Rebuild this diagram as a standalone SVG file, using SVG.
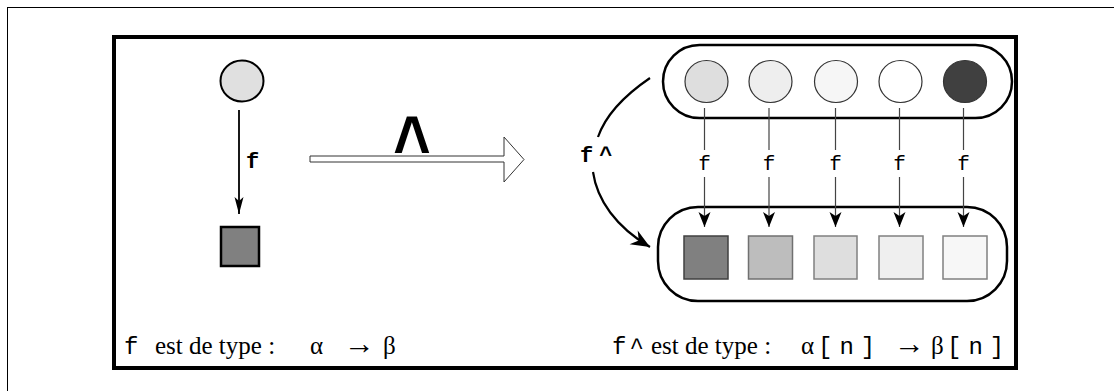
<svg xmlns="http://www.w3.org/2000/svg" width="1114" height="391" viewBox="0 0 1114 391">
<style>
.mono{font-family:"Liberation Mono","Courier New",monospace;fill:#000}
.serif{font-family:"Liberation Serif","Times New Roman",serif;fill:#000}
.b{font-weight:bold}
.conn{fill:none;stroke:#000}
.thin{stroke:#444;stroke-width:1.2}
.bub{fill:#fff;stroke:#000;stroke-width:2.5}
.c{stroke:#333;stroke-width:1.2}
.sq{stroke-width:1.5}
</style>
<defs>
<marker id="ah" markerUnits="userSpaceOnUse" viewBox="-16 -7 17 14" refX="0" refY="0" markerWidth="17" markerHeight="14" orient="auto">
<path d="M0,0 L-15,-6 L-11,0 L-15,6 Z" fill="#000"/>
</marker>
<marker id="ahl" markerUnits="userSpaceOnUse" viewBox="-18 -6 19 12" refX="0" refY="0" markerWidth="19" markerHeight="12" orient="auto">
<path d="M0,0 L-17,-4.5 L-13,0 L-17,4.5 Z" fill="#000"/>
</marker>
<marker id="ahc" markerUnits="userSpaceOnUse" viewBox="-20 -10 21 20" refX="0" refY="0" markerWidth="21" markerHeight="20" orient="auto">
<path d="M0,0 L-19,-8 L-13,0 L-19,8 Z" fill="#000"/>
</marker>
</defs>
<rect x="7.5" y="7.5" width="1120" height="400" fill="#fff" stroke="#000" stroke-width="1"/>
<rect x="114" y="37" width="902" height="331" fill="#fff" stroke="#000" stroke-width="4"/>

<g id="src-circle"><ellipse cx="242" cy="81" rx="21.5" ry="20.5" fill="#e0e0e0" stroke="#000" stroke-width="2"/></g>
<g id="src-square"><rect x="221" y="227" width="38" height="39" fill="#808080" stroke="#000" stroke-width="2.5"/></g>

<g id="top-bubble">
<rect class="bub" x="663" y="45" width="349" height="73" rx="36.5"/>
<ellipse class="c" cx="706.5" cy="81.5" rx="21.5" ry="21" fill="#dedede"/>
<ellipse class="c" cx="770.5" cy="81.5" rx="21.5" ry="21" fill="#eeeeee"/>
<ellipse class="c" cx="836" cy="81.5" rx="21.5" ry="21" fill="#f6f6f6"/>
<ellipse class="c" cx="900.5" cy="81.5" rx="21.5" ry="21" fill="#ffffff"/>
<ellipse class="c" cx="965" cy="81.5" rx="21.5" ry="21" fill="#404040"/>
</g>

<g id="bottom-bubble">
<rect class="bub" x="658" y="207" width="349" height="94" rx="40"/>
<rect class="sq" x="684" y="236" width="44" height="43" fill="#808080" stroke="#404040"/>
<rect class="sq" x="748.5" y="236" width="44" height="43" fill="#bdbdbd" stroke="#707070"/>
<rect class="sq" x="814" y="236" width="43" height="43" fill="#dedede" stroke="#808080"/>
<rect class="sq" x="879" y="236" width="44" height="43" fill="#efefef" stroke="#808080"/>
<rect class="sq" x="943" y="236" width="44" height="43" fill="#f7f7f7" stroke="#808080"/>
</g>

<g id="connectors">
<line class="conn" x1="239" y1="110" x2="239" y2="214" stroke-width="1.8" marker-end="url(#ahl)"/>
<text class="mono b" x="246" y="168" font-size="22">f</text>

<polygon points="310,156 504,156 504,137 524,159.5 504,182 504,162 310,162" fill="#fff" stroke="#333" stroke-width="1"/>
<text class="b" x="412" y="174" font-size="64" text-anchor="middle" style="font-family:'Liberation Sans',Arial,sans-serif" transform="translate(412 174) scale(1 1.3) translate(-412 -174)">^</text>

<g class="thin">
<line x1="704.5" y1="108" x2="704.5" y2="150"/><line x1="704.5" y1="177" x2="704.5" y2="227" marker-end="url(#ah)"/>
<line x1="769" y1="108" x2="769" y2="150"/><line x1="769" y1="177" x2="769" y2="227" marker-end="url(#ah)"/>
<line x1="835.5" y1="108" x2="835.5" y2="150"/><line x1="835.5" y1="177" x2="835.5" y2="227" marker-end="url(#ah)"/>
<line x1="899.5" y1="108" x2="899.5" y2="150"/><line x1="899.5" y1="177" x2="899.5" y2="227" marker-end="url(#ah)"/>
<line x1="963.5" y1="108" x2="963.5" y2="150"/><line x1="963.5" y1="177" x2="963.5" y2="227" marker-end="url(#ah)"/>
</g>
<text class="mono" x="704.5" y="170" font-size="21" text-anchor="middle">f</text>
<text class="mono" x="769" y="170" font-size="21" text-anchor="middle">f</text>
<text class="mono" x="835.5" y="170" font-size="21" text-anchor="middle">f</text>
<text class="mono" x="899.5" y="170" font-size="21" text-anchor="middle">f</text>
<text class="mono" x="963.5" y="170" font-size="21" text-anchor="middle">f</text>

<path class="conn" d="M650,78 C628,93 606,114 598,137" stroke-width="2.2"/>
<path class="conn" d="M593,172 C597,200 616,227 650,247" stroke-width="2.2" marker-end="url(#ahc)"/>
<text class="mono b" x="580" y="162" font-size="22" letter-spacing="6">f^</text>
</g>

<g id="legend-left">
<text class="mono" x="124" y="354" font-size="24">f</text>
<text class="serif" x="155" y="354" font-size="25">est de type :</text>
<text class="serif" x="310" y="354" font-size="25">α</text>
<text class="serif" x="344" y="354" font-size="31">→</text>
<text class="serif" x="383" y="354" font-size="25">β</text>
</g>
<g id="legend-right">
<text class="mono" x="612" y="354" font-size="24" letter-spacing="3">f^</text>
<text class="serif" x="651" y="354" font-size="25">est de type :</text>
<text class="serif" x="801" y="354" font-size="25">α</text>
<text class="mono" x="818" y="354" font-size="24" letter-spacing="7">[n]</text>
<text class="serif" x="894" y="354" font-size="31">→</text>
<text class="serif" x="931" y="354" font-size="25">β</text>
<text class="mono" x="947" y="354" font-size="24" letter-spacing="7">[n]</text>
</g>
</svg>
